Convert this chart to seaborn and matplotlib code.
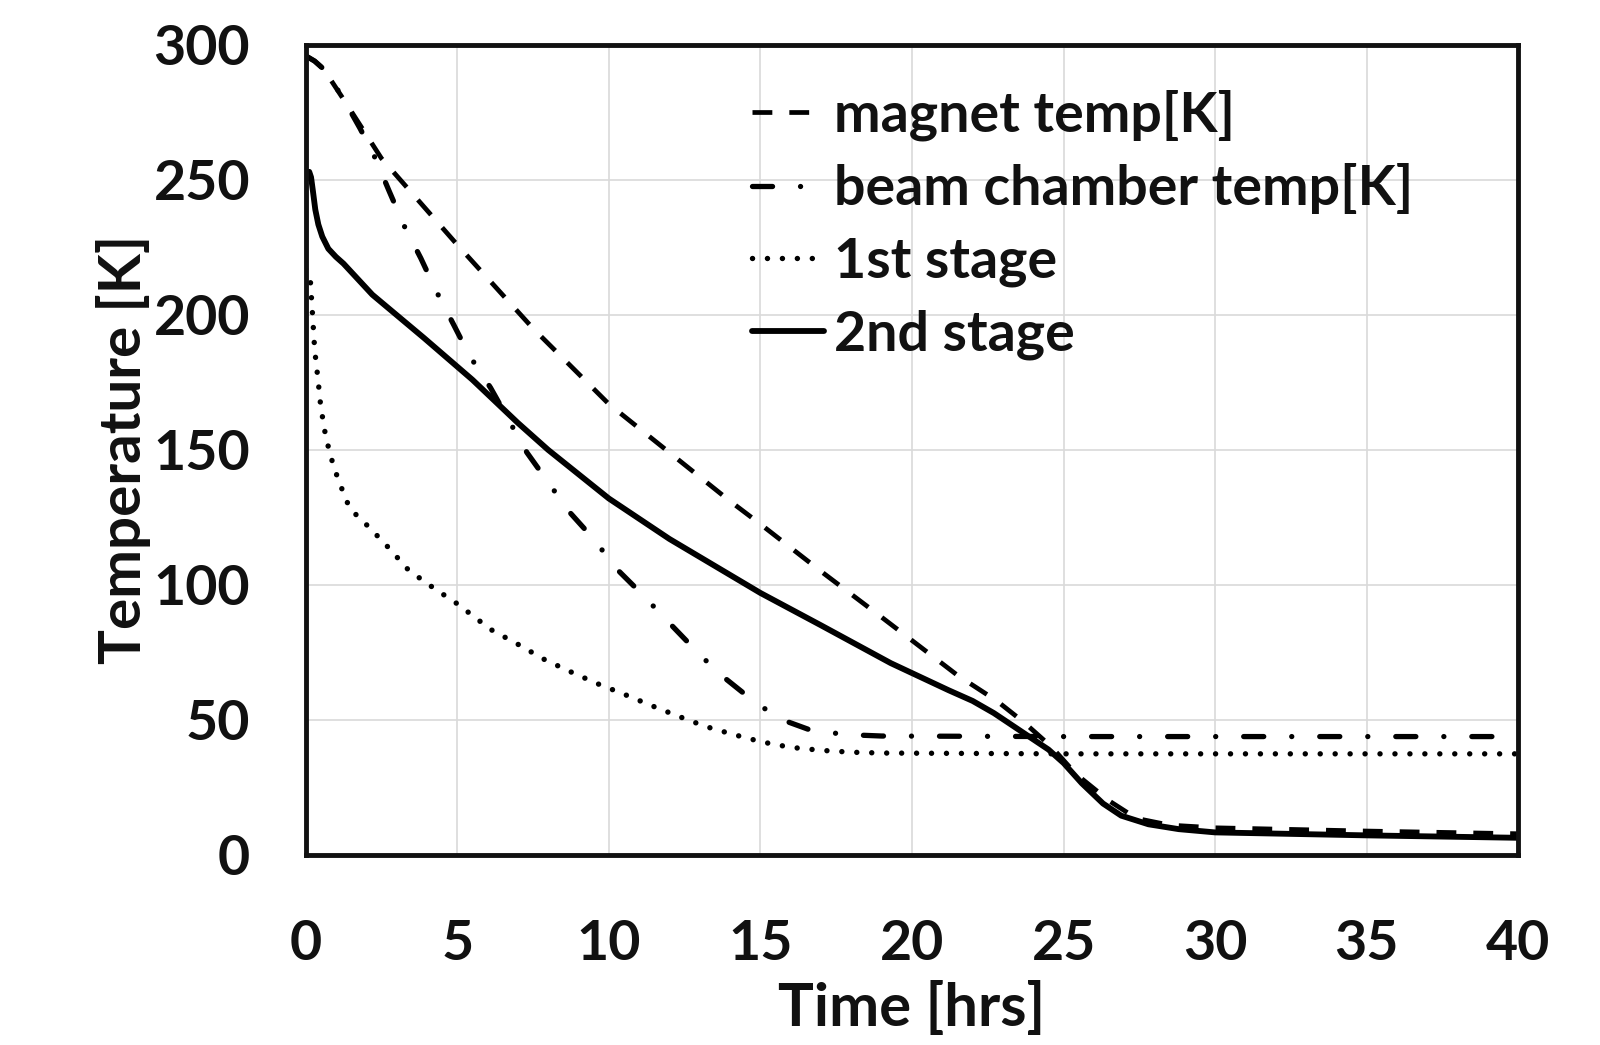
import matplotlib
matplotlib.use("Agg")
import matplotlib.pyplot as plt
import pandas as pd
import seaborn as sns

# magnet temperature (dashed)
magnet_t = [0, 0.3, 0.6, 1.3, 2.5, 5, 7.5, 10, 12, 14, 15, 17, 19, 21.5, 22.8, 23.7,
            24.6, 25.4, 26.5, 27.4, 28.5, 30, 35, 40]
magnet_T = [296, 294, 291, 279, 258, 226, 195, 167, 149, 131, 122.5, 105, 88, 66.5, 57, 49,
            40, 30, 20, 13.5, 11, 10, 8.8, 7.8]

# beam chamber temperature (dash-dot)
beam_t = [0, 0.3, 0.6, 1.2, 1.8, 2.3, 2.75, 3.25, 3.8, 4.3, 4.9, 5.4, 6.1, 7.3, 8.0, 8.7,
          9.5, 10.25, 11.1, 11.9, 12.8, 13.6, 14.6, 15.6, 16.7, 17.9, 19, 25, 30, 35, 40]
beam_T = [296, 294, 291, 281, 269, 258, 246, 233, 221, 209, 196, 185, 173, 149, 138, 127,
          117, 106, 96.5, 87, 76.5, 67.5, 58.5, 50.5, 46, 44.5, 44, 43.8, 43.8, 43.8, 43.8]

# 1st stage (dotted)
stage1_t = [0, 0.15, 0.24, 0.3, 0.41, 0.5, 0.67, 0.8, 0.92, 1.08, 1.25, 1.45, 1.75, 2.1,
            2.75, 3.4, 4.2, 5, 6.1, 7, 7.85, 8.7, 9.6, 10.5, 11.4, 12.3, 13.2, 14.1, 15.05,
            16, 17, 18, 19, 25, 30, 40]
stage1_T = [217, 214, 198, 187, 176, 166, 154.5, 149, 144, 139, 134, 128.5, 125, 121.3,
            113.6, 105.4, 99, 93, 83.5, 78, 72.5, 68, 63.5, 59.5, 55.3, 51.3, 47.5, 44.6, 41.8,
            39.8, 38.7, 38, 37.7, 37.4, 37.4, 37.4]

# 2nd stage (solid)
stage2_t = [0, 0.06, 0.12, 0.18, 0.24, 0.32, 0.42, 0.55, 0.75, 1.0, 1.25, 2.2, 3.9, 5.5, 7,
            8, 10, 12, 15, 17, 19.3, 21.2, 22.0, 22.7, 23.3, 23.9, 24.5, 25, 25.6, 26.3,
            26.9, 27.8, 28.8, 30, 35, 40]
stage2_T = [250, 252.5, 253, 251, 246, 239, 233.5, 229, 224.5, 221.5, 219, 207.5, 191.5, 176,
            160, 150, 132, 117, 97, 85, 71, 61, 57, 52.5, 48, 43.5, 39, 34, 26.5, 19, 14.5,
            11.3, 9.5, 8.3, 7.2, 6.3]

labels = ["magnet temp[K]", "beam chamber temp[K]", "1st stage", "2nd stage"]

sns.set_theme(style="whitegrid")
plt.rcParams["font.family"] = ["Lato", "DejaVu Sans"]
plt.rcParams["font.weight"] = "bold"

fig, ax = plt.subplots(figsize=(16, 10.45), dpi=100)
fig.subplots_adjust(left=0.191, right=0.949, bottom=0.182, top=0.957)

series = [
    (magnet_t, magnet_T, (0, (4.2, 3.6)), 3.4, "butt"),
    (beam_t, beam_T, (0, (3.8, 5.3, 0.01, 5.3)), 3.8, "round"),
    (stage1_t, stage1_T, (0, (0.01, 2.75)), 3.9, "round"),
    (stage2_t, stage2_T, "-", 4.2, "round"),
]
for (t, T, ls, lw, cap), lab in zip(series, labels):
    df = pd.DataFrame({"t": t, "T": T})
    sns.lineplot(data=df, x="t", y="T", ax=ax, color="black", linewidth=lw,
                 linestyle=ls, label=lab)
    line = ax.lines[-1]
    line.set_dash_capstyle(cap)
    line.set_solid_capstyle("round")
    line.set_solid_joinstyle("round")

ax.set_xlim(0, 40)
ax.set_ylim(0, 300)
ax.set_xticks(range(0, 41, 5))
ax.set_yticks(range(0, 301, 50))
ax.grid(True, color="#d9d9d9", linewidth=1.2)
for s in ax.spines.values():
    s.set_color("#111111")
    s.set_linewidth(3.5)
ax.tick_params(axis="both", length=0, labelsize=40, colors="#111111")
ax.tick_params(axis="y", pad=40)
ax.tick_params(axis="x", pad=46)
for lbl in ax.get_xticklabels() + ax.get_yticklabels():
    lbl.set_fontweight("bold")

ax.set_xlabel("Time [hrs]", fontsize=43, fontweight="bold", color="#111111", labelpad=9)
ax.set_ylabel("Temperature [K]", fontsize=42, fontweight="bold", color="#111111", labelpad=2)

leg = ax.legend(loc="upper left", bbox_to_anchor=(0.368, 0.945), frameon=False,
                fontsize=40, handlelength=1.3, handletextpad=0.18, labelspacing=0.4,
                borderaxespad=0, borderpad=0)
for txt in leg.get_texts():
    txt.set_fontweight("bold")
    txt.set_color("#111111")

fig.savefig("out.png", dpi=100)
